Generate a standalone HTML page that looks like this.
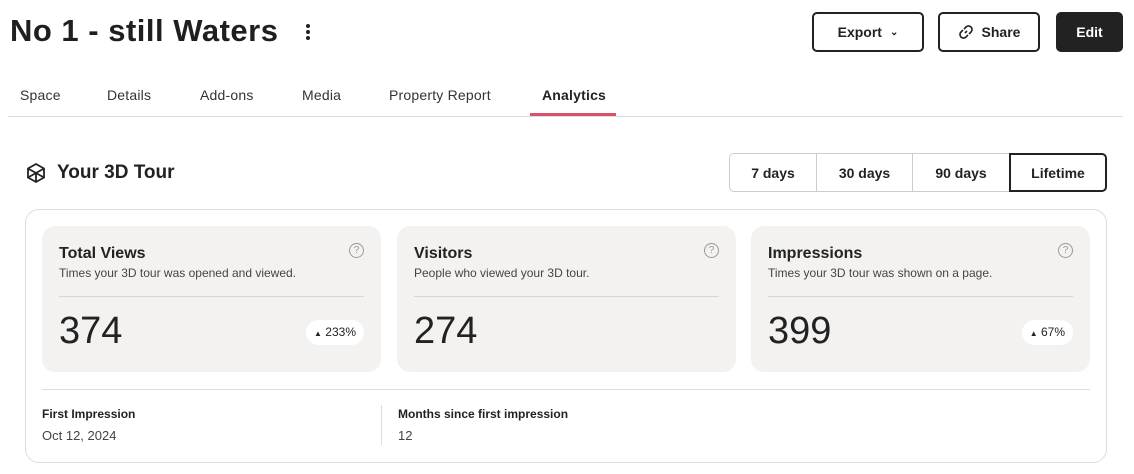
<!DOCTYPE html>
<html><head><meta charset="utf-8"><style>
*{box-sizing:border-box;margin:0;padding:0}
body{width:1134px;height:474px;background:#fff;font-family:"Liberation Sans",sans-serif;color:#222;position:relative;overflow:hidden}
.a{position:absolute}
h1{position:absolute;left:10px;top:13px;font-size:31px;font-weight:bold;letter-spacing:0.5px;color:#1f1f1f}
.btn{position:absolute;top:12px;height:40px;border:2px solid #222;border-radius:5px;font-size:14px;font-weight:bold;display:flex;align-items:center;justify-content:center;gap:8px}
.tab{position:absolute;top:87px;font-size:14px;color:#333;letter-spacing:0.2px}
.rng{position:absolute;top:153px;height:39px;border:1px solid #ccc;font-size:14px;font-weight:bold;display:flex;align-items:center;justify-content:center}
.card{position:absolute;top:226px;height:146px;width:339px;background:#f3f2f1;border-radius:13px}
.card .t{position:absolute;left:17px;top:19px;font-size:16px;font-weight:bold}
.card .s{position:absolute;left:17px;top:40px;font-size:12px;color:#444}
.card .hr{position:absolute;left:17px;right:17px;top:70px;height:1px;background:#d8d6d4}
.card .n{position:absolute;left:17px;top:84px;font-size:38px;color:#222}
.card .q{position:absolute;right:17px;top:17px;width:15px;height:15px;border:1.3px solid #999;border-radius:50%;font-size:10px;color:#999;text-align:center;line-height:13px}
.card .p{position:absolute;right:17px;top:94px;height:25px;padding:0 8px;background:#fff;border-radius:13px;font-size:12px;line-height:25px}
</style></head><body>
<h1>No 1 - still Waters</h1>
<div class="a" style="left:306px;top:24px;width:4px">
<div style="width:4px;height:4px;border-radius:50%;background:#222;margin-bottom:2px"></div>
<div style="width:4px;height:4px;border-radius:50%;background:#222;margin-bottom:2px"></div>
<div style="width:4px;height:4px;border-radius:50%;background:#222"></div></div>
<div class="btn" style="left:812px;width:112px">Export <span style="font-size:10px">&#8964;</span></div>
<div class="btn" style="left:938px;width:102px"><svg width="16" height="16" viewBox="0 0 16 16" fill="none" stroke="#222" stroke-width="1.6"><path d="M7 9 L9 7 M6 5 L8 3 A2.8 2.8 0 0 1 13 8 L11 10 M10 11 L8 13 A2.8 2.8 0 0 1 3 8 L5 6"/></svg>Share</div>
<div class="btn" style="left:1056px;width:67px;background:#222;color:#fff">Edit</div>
<div class="tab" style="left:20px">Space</div>
<div class="tab" style="left:107px">Details</div>
<div class="tab" style="left:200px">Add-ons</div>
<div class="tab" style="left:302px">Media</div>
<div class="tab" style="left:389px">Property Report</div>
<div class="tab" style="left:542px;font-weight:bold;color:#222">Analytics</div>
<div class="a" style="left:8px;top:116px;width:1115px;height:1px;background:#ddd"></div>
<div class="a" style="left:530px;top:113px;width:86px;height:3px;background:#d9506b"></div>
<svg class="a" style="left:25px;top:162px" width="22" height="22" viewBox="0 0 22 22" fill="none" stroke="#222" stroke-width="1.8"><path d="M11 2 L19 6.5 V15.5 L11 20 L3 15.5 V6.5 Z M11 11 V20 M11 11 L3 6.5 M11 11 L19 6.5 M11 11 L3 15.5 M11 11 L19 15.5"/></svg>
<div class="a" style="left:57px;top:162px;font-size:19px;font-weight:bold">Your 3D Tour</div>
<div class="rng" style="left:729px;width:88px;border-radius:5px 0 0 5px">7 days</div>
<div class="rng" style="left:816px;width:97px">30 days</div>
<div class="rng" style="left:912px;width:98px">90 days</div>
<div class="rng" style="left:1009px;width:98px;border:2px solid #222;border-radius:0 5px 5px 0">Lifetime</div>
<div class="a" style="left:25px;top:209px;width:1082px;height:254px;border:1px solid #ddd;border-radius:14px"></div>
<div class="card" style="left:42px"><div class="t">Total Views</div><div class="s">Times your 3D tour was opened and viewed.</div><div class="q">?</div><div class="hr"></div><div class="n">374</div><div class="p"><span style="font-size:8px">&#9650;</span> 233%</div></div>
<div class="card" style="left:397px"><div class="t">Visitors</div><div class="s">People who viewed your 3D tour.</div><div class="q">?</div><div class="hr"></div><div class="n">274</div></div>
<div class="card" style="left:751px"><div class="t">Impressions</div><div class="s">Times your 3D tour was shown on a page.</div><div class="q">?</div><div class="hr"></div><div class="n">399</div><div class="p"><span style="font-size:8px">&#9650;</span> 67%</div></div>
<div class="a" style="left:42px;top:389px;width:1048px;height:1px;background:#ddd"></div>
<div class="a" style="left:381px;top:405px;width:1px;height:40px;background:#ddd"></div>
<div class="a" style="left:42px;top:407px;font-size:12px;font-weight:bold">First Impression</div>
<div class="a" style="left:42px;top:428px;font-size:13px;color:#444">Oct 12, 2024</div>
<div class="a" style="left:398px;top:407px;font-size:12px;font-weight:bold">Months since first impression</div>
<div class="a" style="left:398px;top:428px;font-size:13px;color:#444">12</div>
</body></html>
